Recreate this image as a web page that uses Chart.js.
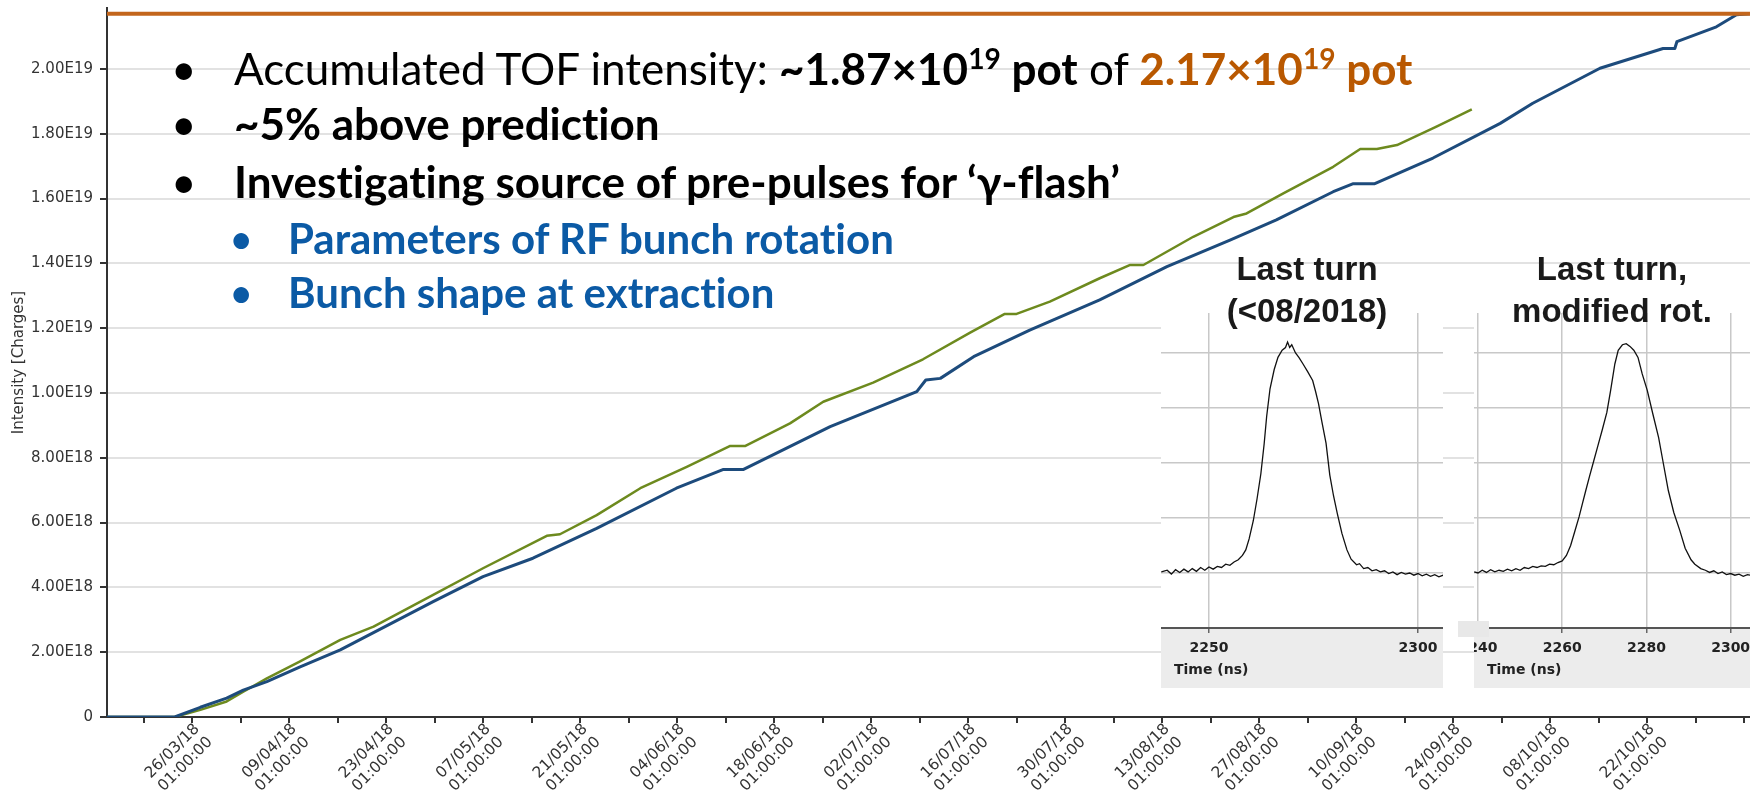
<!DOCTYPE html>
<html>
<head>
<meta charset="utf-8">
<script src="https://cdn.jsdelivr.net/npm/chart.js@4.4.1/dist/chart.umd.min.js"></script>
<style>
  html, body { margin: 0; padding: 0; background: #fff; }
  #wrap { position: relative; width: 1750px; height: 791px; overflow: hidden; }
  canvas { position: absolute; }
  #main { left: 0; top: 0; }
  #insetA { left: 1161px; top: 313px; }
  #insetB { left: 1474px; top: 313px; }
  .ln { position: absolute; white-space: nowrap; font-family: Lato, 'Open Sans', sans-serif; line-height: 1;
        color: #000; font-variant-ligatures: none; }
  .ln b { font-weight: 700; }
  .ln sup { font-size: 0.64em; vertical-align: 0.58em; line-height: 0; }
  .org { color: #b95800; font-weight: 700; }
  .blu { color: #0b5aa5; font-weight: 700; }
  .bul { font-weight: 400; }
  .ttl { position: absolute; width: 300px; text-align: center; font-family: 'Liberation Sans', Arial, sans-serif;
         font-weight: 700; font-size: 33px; line-height: 42px; color: #1a1a1a; }
  #grayBox { position: absolute; left: 1458px; top: 621px; width: 31px; height: 16px; background: #e8e8e8; }
</style>
</head>
<body>
<div id="wrap">
  <canvas id="main" width="1750" height="791"></canvas>
  <canvas id="insetA" width="282" height="375"></canvas>
  <canvas id="insetB" width="276" height="375"></canvas>
  <div id="grayBox"></div>

  <div class="ln bul" style="left:171px; top:46px; font-size:44px;">•</div>
  <div class="ln" style="left:234px; top:46px; font-size:44px;">Accumulated TOF intensity: <b>~1.87×10<sup>19</sup> pot</b> of <span class="org">2.17×10<sup>19</sup> pot</span></div>
  <div class="ln bul" style="left:171px; top:101px; font-size:44px;">•</div>
  <div class="ln" style="left:234px; top:101px; font-size:44px;"><b>~5% above prediction</b></div>
  <div class="ln bul" style="left:171px; top:159px; font-size:44px;">•</div>
  <div class="ln" style="left:234px; top:159px; font-size:44px;"><b>Investigating source of pre-pulses for ‘γ-flash’</b></div>
  <div class="ln blu bul" style="left:229px; top:217px; font-size:42px;">•</div>
  <div class="ln blu" style="left:288px; top:217px; font-size:42px;">Parameters of RF bunch rotation</div>
  <div class="ln blu bul" style="left:229px; top:271px; font-size:42px;">•</div>
  <div class="ln blu" style="left:288px; top:271px; font-size:42px;">Bunch shape at extraction</div>

  <div class="ttl" style="left:1157px; top:248px;">Last turn<br>(&lt;08/2018)</div>
  <div class="ttl" style="left:1462px; top:248px;">Last turn,<br>modified rot.</div>
</div>

<script>
// main chart: accumulated intensity vs day of 2018 (day 0 = 01/01/18), values in 1e18 charges
const measuredDays = [71.7, 81.5, 85.2, 89, 91.4, 94.8, 99.6, 105.4, 110.2, 118.8, 126, 135.2, 137.1, 142.4,
  148.7, 155.4, 161.6, 163.8, 170.3, 175.1, 182.3, 189.5, 196.3, 201.3, 203, 207.8, 215, 219.4, 221.3,
  228.5, 234.3, 236.2, 241.5, 248.7, 252.6, 255, 257.9, 263.6, 268.7];
const measuredValues = [0, 0, 0.22, 0.48, 0.78, 1.19, 1.72, 2.38, 2.79, 3.77, 4.59, 5.59, 5.64, 6.23,
  7.06, 7.72, 8.36, 8.36, 9.06, 9.73, 10.32, 11.04, 11.86, 12.44, 12.44, 12.82, 13.54, 13.95, 13.95,
  14.82, 15.43, 15.54, 16.16, 16.98, 17.53, 17.53, 17.65, 18.22, 18.75];

const predictedDays = [71.7, 81.5, 85.2, 89, 91.4, 94.8, 99.6, 105.4, 118.8, 126, 133.2, 142.4, 153.9,
  160.7, 163.6, 176.1, 188.6, 189.9, 192, 196.8, 204.9, 215, 224.7, 233.8, 240.5, 248.7, 251.6, 254.7,
  263.1, 272.8, 277.5, 287.2, 296.3, 298, 298.3, 304, 306.9, 308.9];
const predictedValues = [0, 0, 0.3, 0.58, 0.83, 1.09, 1.55, 2.07, 3.56, 4.33, 4.9, 5.82, 7.06,
  7.64, 7.64, 8.96, 10.04, 10.4, 10.45, 11.12, 11.94, 12.87, 13.9, 14.72, 15.34, 16.21, 16.46, 16.46,
  17.25, 18.32, 18.94, 20.02, 20.63, 20.63, 20.84, 21.3, 21.67, 21.7];

const targetValue = 21.7;

const majorTickLabels = ['26/03/18', '09/04/18', '23/04/18', '07/05/18', '21/05/18', '04/06/18',
  '18/06/18', '02/07/18', '16/07/18', '30/07/18', '13/08/18', '27/08/18', '10/09/18', '24/09/18',
  '08/10/18', '22/10/18'];
const firstMajorDay = 84;

const xMin = 71.73, xMax = 308.85;
const yMax = 21.88;

// insets: bunch profile of the last turn, time in ns, arbitrary units
const profileOldNs = [2238.6, 2240, 2241, 2242, 2243, 2244, 2245, 2246, 2247, 2248, 2249, 2250, 2251, 2252,
  2253, 2254, 2255, 2256, 2257, 2258, 2258.8, 2259.6, 2260.6, 2261.5, 2262.4, 2263.2, 2263.8, 2264.6,
  2265.6, 2266.5, 2267.5, 2268.3, 2268.8, 2269.3, 2269.8, 2270.7, 2271.5, 2272.5, 2273.6, 2274.8, 2275.5,
  2276.2, 2277, 2278, 2278.9, 2279.8, 2280.7, 2281.8, 2283, 2284, 2285.3, 2286, 2287, 2288, 2289, 2290,
  2291, 2292, 2293, 2294, 2295, 2296, 2297, 2298, 2299, 2300, 2301, 2302, 2303, 2304, 2305, 2306];
const profileOldValues = [1.02, 1.05, 0.98, 1.06, 1.01, 1.07, 1.02, 1.08, 1.03, 1.1, 1.05, 1.11, 1.07, 1.12,
  1.1, 1.16, 1.14, 1.2, 1.24, 1.32, 1.42, 1.62, 1.95, 2.35, 2.8, 3.35, 3.85, 4.35,
  4.7, 4.92, 5.05, 5.1, 5.2, 5.1, 5.15, 5.0, 4.92, 4.8, 4.66, 4.5, 4.3,
  4.08, 3.75, 3.36, 2.78, 2.4, 2.08, 1.72, 1.42, 1.25, 1.15, 1.17, 1.08, 1.1, 1.04, 1.06,
  1.02, 1.04, 0.99, 1.02, 0.97, 1.01, 0.98, 1.0, 0.96, 0.99, 0.95, 0.98, 0.94, 0.97, 0.93, 0.96];

const profileNewNs = [2239.1, 2240, 2241, 2242, 2243, 2244, 2245, 2246, 2247, 2248, 2249, 2250, 2251, 2252,
  2253, 2254, 2255, 2256, 2257, 2258, 2259, 2260, 2261, 2262, 2263, 2264, 2264.8, 2265.6, 2266.5, 2267.5,
  2268.5, 2269.5, 2270.6, 2271.5, 2272.5, 2273.3, 2274.3, 2275.2, 2276.1, 2277, 2278, 2279, 2280.2,
  2281.5, 2282.9, 2284, 2285.2, 2286.5, 2287.9, 2289.2, 2290.6, 2291.5, 2292.9, 2294, 2295, 2296, 2297,
  2298, 2299, 2300, 2301, 2302, 2303, 2304, 2304.6];
const profileNewValues = [1.02, 1.0, 1.05, 1.01, 1.06, 1.02, 1.05, 1.03, 1.07, 1.04, 1.08, 1.05, 1.1, 1.08,
  1.12, 1.1, 1.13, 1.12, 1.16, 1.15, 1.19, 1.22, 1.32, 1.5, 1.76, 2.02, 2.26, 2.5, 2.76, 3.04,
  3.32, 3.6, 3.92, 4.32, 4.8, 5.05, 5.15, 5.17, 5.12, 5.05, 4.92, 4.62, 4.32,
  3.9, 3.46, 3.0, 2.5, 2.1, 1.78, 1.45, 1.24, 1.16, 1.08, 1.05, 1.01, 1.04, 0.99,
  1.02, 0.97, 0.99, 0.96, 0.98, 0.94, 0.97, 0.96];

const toPoints = (xs, ys) => xs.map((x, i) => ({ x: x, y: ys[i] }));

const axisFont = { family: 'DejaVu Sans', size: 15 };

function formatDayLabel(value) {
  const k = (value - firstMajorDay) / 14;
  if (Number.isInteger(k) && k >= 0 && k < majorTickLabels.length) {
    return [majorTickLabels[k], '01:00:00'];
  }
  return '';
}

new Chart(document.getElementById('main'), {
  type: 'line',
  data: {
    datasets: [
      {
        data: [{ x: xMin, y: targetValue }, { x: xMax, y: targetValue }],
        borderColor: '#c3661c',
        borderWidth: 4
      },
      {
        data: toPoints(predictedDays, predictedValues),
        borderColor: '#1d4b7c',
        borderWidth: 3
      },
      {
        data: toPoints(measuredDays, measuredValues),
        borderColor: '#6d8a1e',
        borderWidth: 2.5
      }
    ]
  },
  options: {
    responsive: false,
    animation: false,
    events: [],
    layout: { padding: { top: 8, right: 0, bottom: 0, left: 0 } },
    elements: { point: { radius: 0 }, line: { tension: 0, borderJoinStyle: 'round' } },
    plugins: { legend: { display: false }, tooltip: { enabled: false } },
    scales: {
      x: {
        type: 'linear',
        min: xMin,
        max: xMax,
        border: { color: '#333', width: 2 },
        grid: { drawOnChartArea: false, drawTicks: true, tickLength: 6, tickColor: '#333', lineWidth: 2 },
        ticks: {
          stepSize: 7,
          includeBounds: false,
          autoSkip: false,
          minRotation: 45,
          maxRotation: 45,
          padding: -3,
          labelOffset: 5,
          color: '#333',
          font: { family: 'DejaVu Sans', size: 15.5, lineHeight: 1.2 },
          callback: formatDayLabel
        },
        afterFit(scale) {
          scale.height = 74;
          scale.paddingLeft = 0;
          scale.paddingRight = 0;
        }
      },
      y: {
        type: 'linear',
        min: 0,
        max: yMax,
        border: { color: '#333', width: 2 },
        grid: { color: '#e2e2e2', lineWidth: 2, tickLength: 7, tickColor: '#333' },
        title: {
          display: true,
          text: 'Intensity [Charges]',
          color: '#333',
          font: axisFont,
          padding: { top: 10, bottom: 0 }
        },
        ticks: {
          stepSize: 2,
          includeBounds: false,
          padding: 7,
          color: '#333',
          font: axisFont,
          callback: v => v === 0 ? '0' : (v * 1e18).toExponential(2).replace('e+', 'E')
        },
        afterFit(scale) {
          scale.width = 107;
          scale.paddingTop = 0;
          scale.paddingBottom = 0;
        }
      }
    }
  }
});

const insetBackground = {
  id: 'insetBackground',
  beforeDraw(chart) {
    const { ctx, chartArea, width, height } = chart;
    ctx.save();
    ctx.fillStyle = '#fff';
    ctx.fillRect(0, 0, width, chartArea.bottom);
    ctx.fillStyle = '#ececec';
    ctx.fillRect(0, chartArea.bottom, width, height - chartArea.bottom);
    ctx.restore();
  },
  afterDraw(chart) {
    const { ctx, chartArea } = chart;
    ctx.save();
    ctx.fillStyle = '#222';
    ctx.font = 'bold 14px "DejaVu Sans"';
    ctx.textBaseline = 'middle';
    ctx.fillText('Time (ns)', chartArea.left + 13, 357);
    ctx.restore();
  }
};

function makeInset(id, ns, values, min, max, step) {
  new Chart(document.getElementById(id), {
    type: 'line',
    data: { datasets: [{ data: toPoints(ns, values), borderColor: '#111', borderWidth: 1.3 }] },
    options: {
      responsive: false,
      animation: false,
      events: [],
      layout: { padding: 0 },
      elements: { point: { radius: 0 }, line: { tension: 0 } },
      plugins: { legend: { display: false }, tooltip: { enabled: false } },
      scales: {
        x: {
          type: 'linear',
          min: min,
          max: max,
          border: { color: '#555', width: 2 },
          grid: { color: '#c8c8c8', lineWidth: 1.5, tickLength: 5, tickColor: '#666' },
          ticks: {
            stepSize: step,
            includeBounds: false,
            autoSkip: false,
            maxRotation: 0,
            padding: 7,
            color: '#222',
            font: { family: 'DejaVu Sans', size: 14, weight: 'bold' },
            callback: v => String(v)
          },
          afterFit(scale) {
            scale.height = 60;
            scale.paddingLeft = 0;
            scale.paddingRight = 0;
          }
        },
        y: {
          type: 'linear',
          min: 0,
          max: 5.727,
          border: { display: false },
          grid: { color: '#c8c8c8', lineWidth: 1.5, drawTicks: false },
          ticks: { stepSize: 1, includeBounds: false, display: false },
          afterFit(scale) {
            scale.width = 0;
            scale.paddingTop = 0;
            scale.paddingBottom = 0;
          }
        }
      }
    },
    plugins: [insetBackground]
  });
}

makeInset('insetA', profileOldNs, profileOldValues, 2238.52, 2305.98, 50);
makeInset('insetB', profileNewNs, profileNewValues, 2239.05, 2304.6, 20);
</script>
</body>
</html>
